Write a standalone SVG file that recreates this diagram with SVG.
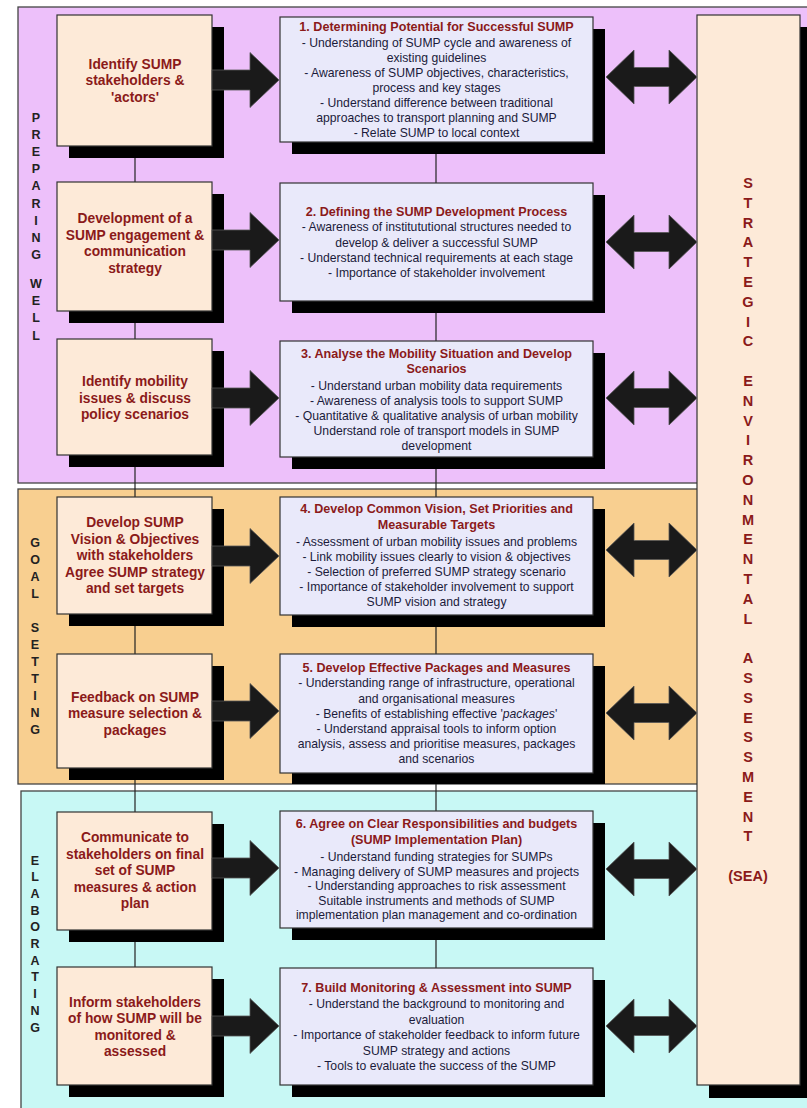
<svg xmlns="http://www.w3.org/2000/svg" xmlns:xlink="http://www.w3.org/1999/xlink" width="807" height="1108" viewBox="0 0 807 1108">
<style>
.band{stroke:#444;stroke-width:1.3}
.sh{fill:#000}
.lbox{fill:#FDEAD8;stroke:#333;stroke-width:1.2}
.rbox{fill:#E9E9FA;stroke:#333;stroke-width:1.2}
.lt{font-family:"Liberation Sans",Arial,sans-serif;font-weight:bold;font-size:13.8px;fill:#8B1A1A;text-anchor:middle}
.tt{font-family:"Liberation Sans",Arial,sans-serif;font-weight:bold;font-size:12.6px;fill:#8B1A1A;text-anchor:middle}
.bt{font-family:"Liberation Sans",Arial,sans-serif;font-size:12.2px;fill:#1B1B3A;text-anchor:middle}
.bl{font-family:"Liberation Sans",Arial,sans-serif;font-weight:bold;font-size:12.5px;fill:#222;text-anchor:middle}
.sea{font-family:"Liberation Sans",Arial,sans-serif;font-weight:bold;font-size:14.5px;fill:#8B1A1A;text-anchor:middle}
.conn{stroke:#222;stroke-width:1.2;fill:none}
.arr{fill:#1A1A1A;stroke:#555;stroke-width:0.8}
</style>
<defs>
<path id="sa" d="M0,-10 L38,-10 L38,-27.5 L67,0 L38,27.5 L38,10 L0,10 Z"/>
<path id="da" d="M0,0 L28,-27 L28,-9.5 L63,-9.5 L63,-27 L91,0 L63,27 L63,9.5 L28,9.5 L28,27 Z"/>
</defs>

<g id="bands">
<rect class="band" x="18" y="7" width="800" height="476" fill="#EDC0FA"/>
<rect class="band" x="18" y="489" width="800" height="295" fill="#F8CF90"/>
<rect class="band" x="21" y="791" width="800" height="330" fill="#C8F8F5"/>
<text class="bl"><tspan x="36" y="121.5">P</tspan><tspan x="36" y="138.7">R</tspan><tspan x="36" y="155.9">E</tspan><tspan x="36" y="173.1">P</tspan><tspan x="36" y="190.3">A</tspan><tspan x="36" y="207.5">R</tspan><tspan x="36" y="224.7">I</tspan><tspan x="36" y="241.9">N</tspan><tspan x="36" y="259.1">G</tspan><tspan x="36" y="288">W</tspan><tspan x="36" y="305.2">E</tspan><tspan x="36" y="322.4">L</tspan><tspan x="36" y="339.6">L</tspan></text>
<text class="bl"><tspan x="35" y="546.5">G</tspan><tspan x="35" y="563.5">O</tspan><tspan x="35" y="580.5">A</tspan><tspan x="35" y="597.5">L</tspan><tspan x="35" y="631.5">S</tspan><tspan x="35" y="648.5">E</tspan><tspan x="35" y="665.5">T</tspan><tspan x="35" y="682.5">T</tspan><tspan x="35" y="699.5">I</tspan><tspan x="35" y="716.5">N</tspan><tspan x="35" y="733.5">G</tspan></text>
<text class="bl"><tspan x="35" y="864.5">E</tspan><tspan x="35" y="881.2">L</tspan><tspan x="35" y="897.9">A</tspan><tspan x="35" y="914.6">B</tspan><tspan x="35" y="931.3">O</tspan><tspan x="35" y="948">R</tspan><tspan x="35" y="964.7">A</tspan><tspan x="35" y="981.4">T</tspan><tspan x="35" y="998.1">I</tspan><tspan x="35" y="1014.8">N</tspan><tspan x="35" y="1031.5">G</tspan></text>
</g>

<g id="connector-lines">
<line class="conn" x1="135" y1="146" x2="135" y2="967"/>
<line class="conn" x1="436" y1="142" x2="436" y2="968"/>
</g>

<g id="stakeholder-1">
<rect class="sh" x="69" y="27" width="155" height="131"/>
<rect class="lbox" x="57" y="15" width="155" height="131"/>
<text class="lt"><tspan x="135" y="68.5">Identify SUMP</tspan><tspan x="135" y="85">stakeholders &amp;</tspan><tspan x="135" y="101.5">'actors'</tspan></text>
</g>
<g id="stakeholder-2">
<rect class="sh" x="69" y="194" width="155" height="129"/>
<rect class="lbox" x="57" y="182" width="155" height="129"/>
<text class="lt"><tspan x="135" y="223">Development of a</tspan><tspan x="135" y="239.5">SUMP engagement &amp;</tspan><tspan x="135" y="256">communication</tspan><tspan x="135" y="272.5">strategy</tspan></text>
</g>
<g id="stakeholder-3">
<rect class="sh" x="69" y="351" width="155" height="116"/>
<rect class="lbox" x="57" y="339" width="155" height="116"/>
<text class="lt"><tspan x="135" y="386">Identify mobility</tspan><tspan x="135" y="402.5">issues &amp; discuss</tspan><tspan x="135" y="419">policy scenarios</tspan></text>
</g>
<g id="stakeholder-4">
<rect class="sh" x="69" y="509" width="155" height="117"/>
<rect class="lbox" x="57" y="497" width="155" height="117"/>
<text class="lt"><tspan x="135" y="527">Develop SUMP</tspan><tspan x="135" y="543.5">Vision &amp; Objectives</tspan><tspan x="135" y="560">with stakeholders</tspan><tspan x="135" y="576.5">Agree SUMP strategy</tspan><tspan x="135" y="593">and set targets</tspan></text>
</g>
<g id="stakeholder-5">
<rect class="sh" x="69" y="666" width="155" height="114"/>
<rect class="lbox" x="57" y="654" width="155" height="114"/>
<text class="lt"><tspan x="135" y="701.5">Feedback on SUMP</tspan><tspan x="135" y="718">measure selection &amp;</tspan><tspan x="135" y="734.5">packages</tspan></text>
</g>
<g id="stakeholder-6">
<rect class="sh" x="69" y="824" width="155" height="118"/>
<rect class="lbox" x="57" y="812" width="155" height="118"/>
<text class="lt"><tspan x="135" y="842">Communicate to</tspan><tspan x="135" y="858.5">stakeholders on final</tspan><tspan x="135" y="875">set of SUMP</tspan><tspan x="135" y="891.5">measures &amp; action</tspan><tspan x="135" y="908">plan</tspan></text>
</g>
<g id="stakeholder-7">
<rect class="sh" x="69" y="979" width="155" height="118"/>
<rect class="lbox" x="57" y="967" width="155" height="118"/>
<text class="lt"><tspan x="135" y="1006.5">Inform stakeholders</tspan><tspan x="135" y="1023">of how SUMP will be</tspan><tspan x="135" y="1039.5">monitored &amp;</tspan><tspan x="135" y="1056">assessed</tspan></text>
</g>

<g id="step-1">
<rect class="sh" x="292" y="29" width="313" height="125"/>
<rect class="rbox" x="280" y="17" width="313" height="125"/>
<text class="tt" x="436.5" y="30.5">1. Determining Potential for Successful SUMP</text>
<text class="bt"><tspan x="436.5" y="47.3">- Understanding of SUMP cycle and awareness of</tspan><tspan x="436.5" y="62.3">existing guidelines</tspan><tspan x="436.5" y="77.3">- Awareness of SUMP objectives, characteristics,</tspan><tspan x="436.5" y="92.3">process and key stages</tspan><tspan x="436.5" y="107.3">- Understand difference between traditional</tspan><tspan x="436.5" y="122.3">approaches to transport planning and SUMP</tspan><tspan x="436.5" y="137.3">- Relate SUMP to local context</tspan></text>
</g>
<g id="step-2">
<rect class="sh" x="292" y="195" width="313" height="118"/>
<rect class="rbox" x="280" y="183" width="313" height="118"/>
<text class="tt" x="436.5" y="215.5">2. Defining the SUMP Development Process</text>
<text class="bt"><tspan x="436.5" y="231.3">- Awareness of institututional structures needed to</tspan><tspan x="436.5" y="246.6">develop &amp; deliver a successful SUMP</tspan><tspan x="436.5" y="261.9">- Understand technical requirements at each stage</tspan><tspan x="436.5" y="277.2">- Importance of stakeholder involvement</tspan></text>
</g>
<g id="step-3">
<rect class="sh" x="292" y="353" width="313" height="116"/>
<rect class="rbox" x="280" y="341" width="313" height="116"/>
<text class="tt"><tspan x="436.5" y="357.5">3. Analyse the Mobility Situation and Develop</tspan><tspan x="436.5" y="372.5">Scenarios</tspan></text>
<text class="bt"><tspan x="436.5" y="390.3">- Understand urban mobility data requirements</tspan><tspan x="436.5" y="405.3">- Awareness of analysis tools to support SUMP</tspan><tspan x="436.5" y="420.3">- Quantitative &amp; qualitative analysis of urban mobility</tspan><tspan x="436.5" y="435.3">Understand role of transport models in SUMP</tspan><tspan x="436.5" y="450.3">development</tspan></text>
</g>
<g id="step-4">
<rect class="sh" x="292" y="509" width="313" height="118"/>
<rect class="rbox" x="280" y="497" width="313" height="118"/>
<text class="tt"><tspan x="436.5" y="512.5">4. Develop Common Vision, Set Priorities and</tspan><tspan x="436.5" y="528.5">Measurable Targets</tspan></text>
<text class="bt"><tspan x="436.5" y="546.3">- Assessment of urban mobility issues and problems</tspan><tspan x="436.5" y="561.3">- Link mobility issues clearly to vision &amp; objectives</tspan><tspan x="436.5" y="576.3">- Selection of preferred SUMP strategy scenario</tspan><tspan x="436.5" y="591.3">- Importance of stakeholder involvement to support</tspan><tspan x="436.5" y="606.3">SUMP vision and strategy</tspan></text>
</g>
<g id="step-5">
<rect class="sh" x="292" y="666" width="313" height="118"/>
<rect class="rbox" x="280" y="654" width="313" height="119"/>
<text class="tt" x="436.5" y="671.5">5. Develop Effective Packages and Measures</text>
<text class="bt"><tspan x="436.5" y="687.3">- Understanding range of infrastructure, operational</tspan><tspan x="436.5" y="702.5">and organisational measures</tspan><tspan x="436.5" y="717.7">- Benefits of establishing effective '<tspan font-style="italic">packages</tspan>'</tspan><tspan x="436.5" y="732.9">- Understand appraisal tools to inform option</tspan><tspan x="436.5" y="748.1">analysis, assess and prioritise measures, packages</tspan><tspan x="436.5" y="763.3">and scenarios</tspan></text>
</g>
<g id="step-6">
<rect class="sh" x="292" y="823" width="313" height="117"/>
<rect class="rbox" x="280" y="811" width="313" height="117"/>
<text class="tt"><tspan x="436.5" y="827.5">6. Agree on Clear Responsibilities and budgets</tspan><tspan x="436.5" y="843.5">(SUMP Implementation Plan)</tspan></text>
<text class="bt"><tspan x="436.5" y="861.3">- Understand funding strategies for SUMPs</tspan><tspan x="436.5" y="875.8">- Managing delivery of SUMP measures and projects</tspan><tspan x="436.5" y="890.3">- Understanding approaches to risk assessment</tspan><tspan x="436.5" y="904.8">Suitable instruments and methods of SUMP</tspan><tspan x="436.5" y="919.3">implementation plan management and co-ordination</tspan></text>
</g>
<g id="step-7">
<rect class="sh" x="292" y="980" width="313" height="117"/>
<rect class="rbox" x="280" y="968" width="313" height="117"/>
<text class="tt" x="436.5" y="991.5">7. Build Monitoring &amp; Assessment into SUMP</text>
<text class="bt"><tspan x="436.5" y="1008.3">- Understand the background to monitoring and</tspan><tspan x="436.5" y="1023.8">evaluation</tspan><tspan x="436.5" y="1039.3">- Importance of stakeholder feedback to inform future</tspan><tspan x="436.5" y="1054.8">SUMP strategy and actions</tspan><tspan x="436.5" y="1070.3">- Tools to evaluate the success of the SUMP</tspan></text>
</g>

<g id="sea">
<rect class="sh" x="709" y="27" width="103" height="1071"/>
<rect class="lbox" x="697" y="15" width="103" height="1070"/>
<text class="sea"><tspan x="748" y="188">S</tspan><tspan x="748" y="207.8">T</tspan><tspan x="748" y="227.6">R</tspan><tspan x="748" y="247.4">A</tspan><tspan x="748" y="267.2">T</tspan><tspan x="748" y="287">E</tspan><tspan x="748" y="306.8">G</tspan><tspan x="748" y="326.6">I</tspan><tspan x="748" y="346.4">C</tspan><tspan x="748" y="386">E</tspan><tspan x="748" y="405.8">N</tspan><tspan x="748" y="425.6">V</tspan><tspan x="748" y="445.4">I</tspan><tspan x="748" y="465.2">R</tspan><tspan x="748" y="485">O</tspan><tspan x="748" y="504.8">N</tspan><tspan x="748" y="524.6">M</tspan><tspan x="748" y="544.4">E</tspan><tspan x="748" y="564.2">N</tspan><tspan x="748" y="584">T</tspan><tspan x="748" y="603.8">A</tspan><tspan x="748" y="623.6">L</tspan><tspan x="748" y="663.2">A</tspan><tspan x="748" y="683">S</tspan><tspan x="748" y="702.8">S</tspan><tspan x="748" y="722.6">E</tspan><tspan x="748" y="742.4">S</tspan><tspan x="748" y="762.2">S</tspan><tspan x="748" y="782">M</tspan><tspan x="748" y="801.8">E</tspan><tspan x="748" y="821.6">N</tspan><tspan x="748" y="841.4">T</tspan><tspan x="748" y="881">(SEA)</tspan></text>
</g>

<g id="connectors">
<use href="#sa" class="arr" x="212" y="80"/>
<use href="#sa" class="arr" x="212" y="240"/>
<use href="#sa" class="arr" x="212" y="398"/>
<use href="#sa" class="arr" x="212" y="556"/>
<use href="#sa" class="arr" x="212" y="711"/>
<use href="#sa" class="arr" x="212" y="868"/>
<use href="#sa" class="arr" x="212" y="1026"/>
<use href="#da" class="arr" x="606" y="77"/>
<use href="#da" class="arr" x="606" y="242"/>
<use href="#da" class="arr" x="606" y="398"/>
<use href="#da" class="arr" x="606" y="550"/>
<use href="#da" class="arr" x="606" y="713"/>
<use href="#da" class="arr" x="606" y="869"/>
<use href="#da" class="arr" x="606" y="1026"/>
</g>
</svg>
